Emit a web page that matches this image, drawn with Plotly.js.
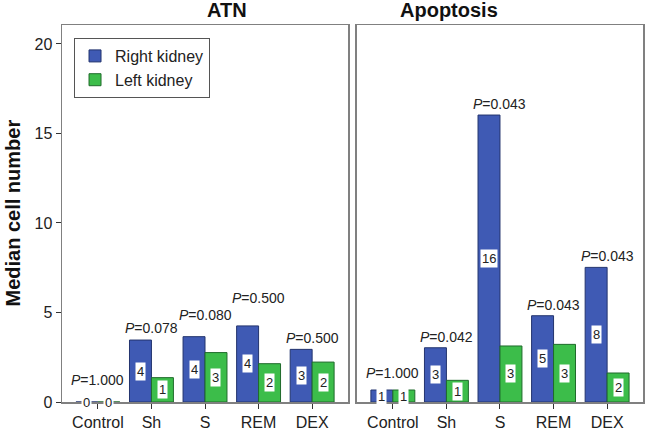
<!DOCTYPE html>
<html>
<head>
<meta charset="utf-8">
<script src="https://cdn.plot.ly/plotly-3.0.1.min.js"></script>
<style>
  html, body { margin: 0; padding: 0; background: #fff; }
  #chart { width: 645px; height: 430px; }
</style>
</head>
<body>
<div id="chart"></div>
<script>
    var groups = ['Control', 'Sh', 'S', 'REM', 'DEX'];

    // ATN panel
    var atnRight = [0, 3.46, 3.65, 4.25, 2.94];
    var atnLeft = [0, 1.36, 2.76, 2.14, 2.23];
    var atnRightLabel = ['0', '4', '4', '4', '3'];
    var atnLeftLabel = ['0', '1', '3', '2', '2'];
    var atnP = ['1.000', '0.078', '0.080', '0.500', '0.500'];

    // Apoptosis panel
    var apoRight = [0.67, 3.03, 16.03, 4.82, 7.52];
    var apoLeft = [0.67, 1.21, 3.13, 3.22, 1.62];
    var apoRightLabel = ['1', '3', '16', '5', '8'];
    var apoLeftLabel = ['1', '1', '3', '3', '2'];
    var apoP = ['1.000', '0.042', '0.043', '0.043', '0.043'];

    var blue = '#3f5ab4';
    var green = '#3cbd4a';

    function barTrace(y, name, color, lineColor, xa, ya, show) {
      return {
        x: groups,
        y: y,
        name: name,
        type: 'bar',
        xaxis: xa,
        yaxis: ya,
        showlegend: show,
        marker: { color: color, line: { color: lineColor, width: 1 } },
        hoverinfo: 'none'
      };
    }

    var data = [
      barTrace(atnRight, 'Right kidney', blue, '#23346e', 'x', 'y', true),
      barTrace(atnLeft, 'Left kidney', green, '#1f6b2b', 'x', 'y', true),
      barTrace(apoRight, 'Right kidney', blue, '#23346e', 'x2', 'y2', false),
      barTrace(apoLeft, 'Left kidney', green, '#1f6b2b', 'x2', 'y2', false)
    ];

    var annotations = [];
    var off = 0.205;

    function addPanel(right, left, rLab, lLab, pv, xref, yref, lift) {
      for (var i = 0; i < groups.length; i++) {
        [[right[i], rLab[i], -off], [left[i], lLab[i], off]].forEach(function (b) {
          annotations.push({
            xref: xref, yref: yref, x: i + b[2], y: b[0] / 2,
            text: b[1], showarrow: false, bgcolor: '#ffffff', borderpad: 1,
            yanchor: 'middle', font: { family: 'Arial, Liberation Sans', size: 13, color: '#222' }
          });
        });
        annotations.push({
          xref: xref, yref: yref, x: i, y: Math.max(right[i], left[i]),
          yshift: lift[i], yanchor: 'middle', showarrow: false,
          text: '<i>P</i>=' + pv[i],
          font: { family: 'Arial, Liberation Sans', size: 14, color: '#222' }
        });
      }
    }

    addPanel(atnRight, atnLeft, atnRightLabel, atnLeftLabel, atnP, 'x', 'y', [22, 12, 22, 28, 11]);
    addPanel(apoRight, apoLeft, apoRightLabel, apoLeftLabel, apoP, 'x2', 'y2', [17, 11, 11, 11, 11]);

    var titleFont = { family: 'Arial, Liberation Sans', size: 20, color: '#111', weight: 'bold' };
    annotations.push({ xref: 'paper', yref: 'paper', x: 0.246, y: 1.04, text: '<b>ATN</b>',
      showarrow: false, yanchor: 'middle', font: titleFont });
    annotations.push({ xref: 'paper', yref: 'paper', x: 0.754, y: 1.04, text: '<b>Apoptosis</b>',
      showarrow: false, yanchor: 'middle', font: titleFont });
    annotations.push({ xref: 'paper', yref: 'paper', x: -0.086, y: 0.5, text: '<b>Median cell number</b>',
      textangle: -90, showarrow: false, xanchor: 'center', yanchor: 'middle', font: titleFont });

    var tickFont = { family: 'Arial, Liberation Sans', size: 16, color: '#222' };
    var xBase = {
      type: 'category', range: [-0.67, 4.67], ticks: 'outside', ticklen: 5, tickcolor: '#333',
      showline: true, mirror: true, linecolor: '#808080', linewidth: 1.5,
      tickfont: tickFont, showgrid: false, zeroline: false, fixedrange: true
    };
    var yBase = {
      range: [0, 21.06], showline: true, mirror: true, linecolor: '#808080', linewidth: 1.5,
      showgrid: false, zeroline: false, fixedrange: true, tickfont: tickFont
    };

    var layout = {
      width: 645,
      height: 430,
      margin: { l: 62, r: 2, t: 25, b: 28 },
      paper_bgcolor: '#ffffff',
      plot_bgcolor: '#ffffff',
      barmode: 'group',
      bargap: 0.18,
      bargroupgap: 0,
      xaxis: Object.assign({}, xBase, { domain: [0, 0.4923], anchor: 'y' }),
      xaxis2: Object.assign({}, xBase, { domain: [0.5077, 1], anchor: 'y2' }),
      yaxis: Object.assign({}, yBase, { tickvals: [0, 5, 10, 15, 20], ticks: 'outside', ticklen: 5, tickcolor: '#333' }),
      yaxis2: Object.assign({}, yBase, { anchor: 'x2', showticklabels: false, ticks: '' }),
      legend: {
        x: 0.0207, y: 0.9655, xanchor: 'left', yanchor: 'top',
        bordercolor: '#555', borderwidth: 1, bgcolor: '#ffffff',
        font: { family: 'Arial, Liberation Sans', size: 16, color: '#222' },
        tracegroupgap: 0, itemclick: false
      },
      annotations: annotations
    };

Plotly.newPlot('chart', data, layout, {
  displayModeBar: false, staticPlot: true
});
</script>
</body>
</html>
